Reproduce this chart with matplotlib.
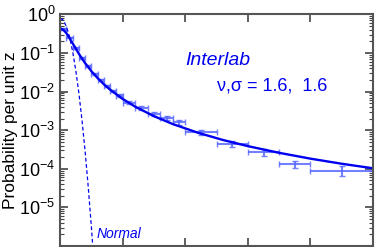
import matplotlib.pyplot as plt

plt.rcParams['font.family'] = ['Liberation Sans', 'DejaVu Sans']
plt.rcParams['mathtext.default'] = 'regular'

# binned data: bin centres, half widths, probability per unit z, errors
z_pts = [0.5, 1.5, 2.5, 3.5, 4.5, 5.5, 6.5, 7.5, 8.5, 9.5,
         11, 13, 15, 17, 19, 22.5, 27.5, 32.5, 37.5, 45]
z_half = [0.5] * 10 + [1] * 5 + [2.5] * 4 + [5]
p_pts = [0.42, 0.25, 0.135, 0.074, 0.045, 0.029, 0.020, 0.0142, 0.0104, 0.0079,
         0.0052, 0.0038, 0.0026, 0.0021, 0.0016, 8.8e-4, 4.4e-4, 2.7e-4, 1.3e-4, 9.0e-5]
p_err = [0.02, 0.012, 0.007, 0.004, 0.0025, 0.0017, 0.0012, 0.0009, 0.0007, 0.0006,
         0.0005, 0.0004, 0.0003, 0.00028, 0.00022, 1.5e-4, 0.8e-4, 0.5e-4, 0.27e-4, 2.5e-5]

# fitted student-t curve (nu, sigma = 1.6, 1.6)
z_fit = [0, 0.5, 1, 1.5, 2, 2.5, 3, 3.5, 4, 5, 6, 7, 8, 10, 12, 15, 18, 22, 26, 30,
         35, 40, 45, 50]
p_fit = [0.430, 0.398, 0.324, 0.243, 0.177, 0.129, 0.0949, 0.0711, 0.0544, 0.0336,
         0.0222, 0.01538, 0.01113, 0.00641, 0.00405, 0.00230, 0.00144, 0.00086,
         0.000558, 0.000386, 0.000259, 0.000183, 0.000135, 0.000103]

# normal curve
z_norm = [0, 0.5, 1, 1.5, 2, 2.5, 3, 3.5, 4, 4.5, 5, 5.5]
p_norm = [0.798, 0.704, 0.484, 0.259, 0.108, 0.0350, 0.00886, 0.00175, 2.68e-4,
          3.2e-5, 2.97e-6, 2.1e-7]

fig = plt.figure(figsize=(3.76, 2.47), dpi=100)
ax = fig.add_axes([0.16, 0.004, 0.832, 0.938])

ax.errorbar(z_pts, p_pts, xerr=z_half, yerr=p_err, fmt='none', ecolor='#5a6aff',
            elinewidth=1.5, capsize=2, capthick=1, alpha=0.85)
ax.plot(z_fit, p_fit, color='#0000ee', lw=1.7)
ax.plot(z_norm, p_norm, color='#0000ee', lw=0.9, ls=(0, (3, 2)))

ax.set_yscale('log')
ax.set_xlim(0, 50)
ax.set_ylim(1e-6, 1)
ax.set_xticks([10, 20, 30, 40])
ax.set_xticklabels([])
ax.set_yticks([1, 1e-1, 1e-2, 1e-3, 1e-4, 1e-5, 1e-6])
ax.set_yticklabels(['$10^{0}$', '$10^{-1}$', '$10^{-2}$', '$10^{-3}$',
                    '$10^{-4}$', '$10^{-5}$', ''])
ax.tick_params(which='both', direction='in', top=True, right=True, colors='#444444',
               labelcolor='black', labelsize=13)
ax.tick_params(which='major', length=6, width=1.2)
ax.tick_params(which='minor', length=3, width=0.8)
for s in ax.spines.values():
    s.set_color('#555555')
    s.set_linewidth(1.5)

ax.set_ylabel('Probability per unit z', fontsize=12.5, va='center')
ax.yaxis.set_label_coords(-0.158, 0.5)

ax.text(0.4, 0.80, 'Interlab', transform=ax.transAxes, color='#0000ee',
        fontsize=14, style='italic', va='center')
ax.text(0.5, 0.69, 'ν,σ = 1.6,  1.6', transform=ax.transAxes, color='#0000ee',
        fontsize=13, va='center')
ax.text(0.115, 0.05, 'Normal', transform=ax.transAxes, color='#0000ee',
        fontsize=10, style='italic', va='center')

fig.savefig('out.png', dpi=100)
